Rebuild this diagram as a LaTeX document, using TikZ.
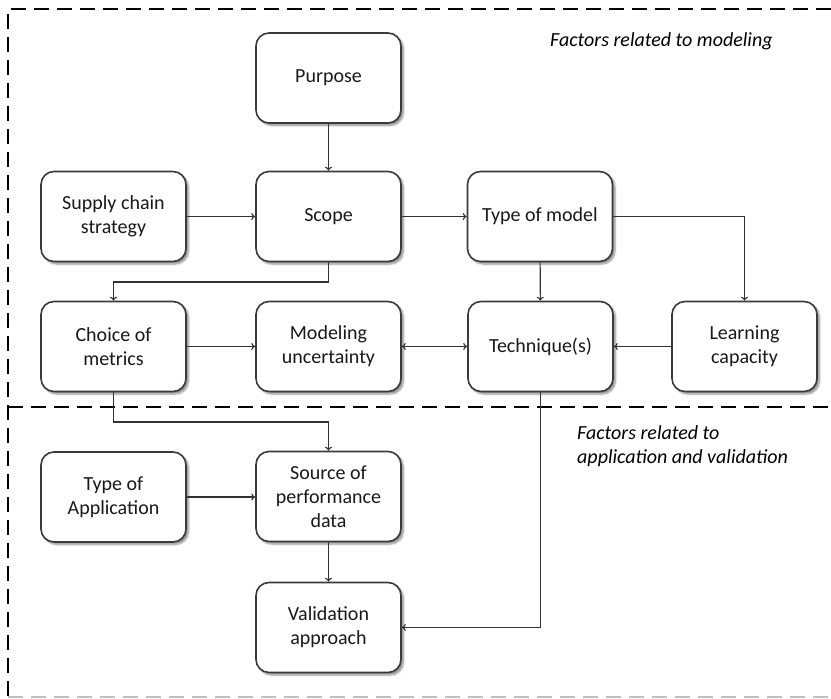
\documentclass[tikz,border=0pt]{standalone}
\usepackage{fontspec}
\setmainfont{Carlito}
\usetikzlibrary{arrows.meta,shadows.blur,calc}
\definecolor{boxline}{HTML}{3A3A3A}
\definecolor{conline}{HTML}{333333}
\tikzset{
  fbox/.style={draw=boxline, line width=1.6pt, rounded corners=13pt, fill=white,
    minimum width=145pt, minimum height=90pt, align=center, inner sep=2pt,
    font=\fontsize{20}{24}\selectfont, text=black!90,
    blur shadow={shadow xshift=2.5pt, shadow yshift=-2.5pt, shadow blur steps=6, shadow opacity=45}},
  conn/.style={draw=conline, line width=1.1pt, -{To[length=4pt,width=7pt]}},
  dconn/.style={draw=conline, line width=1.1pt, {To[length=4pt,width=7pt]}-{To[length=4pt,width=7pt]}},
  region/.style={draw=black, line width=1.8pt, dash pattern=on 15pt off 8pt},
  lbl/.style={font=\fontsize{20}{24}\selectfont\itshape, align=left, inner sep=0pt}
}
\begin{document}
\begin{tikzpicture}[x=1pt,y=-1pt]
\useasboundingbox (0,0) rectangle (831,699);
% regions
\draw[region] (831,9) -- (8,9) -- (8,697);
\draw[region, draw=black!25] (8,697) -- (831,697);
\draw[region] (8,407) -- (831,407);
% nodes
\node[fbox] (purpose) at (328.5,78) {Purpose};
\node[fbox] (supply) at (113.5,216.5) {Supply chain\\strategy};
\node[fbox] (scope) at (328.5,216.5) {Scope};
\node[fbox] (tom) at (540,216.5) {Type of model};
\node[fbox] (choice) at (113.5,346.5) {Choice of\\metrics};
\node[fbox] (model) at (328.5,346.5) {Modeling\\uncertainty};
\node[fbox] (tech) at (540.5,346.5) {Technique(s)};
\node[fbox] (learn) at (744.5,346.5) {Learning\\capacity};
\node[fbox] (toa) at (113.5,497) {Type of\\Application};
\node[fbox] (source) at (328.5,496.5) {Source of\\performance\\data};
\node[fbox] (valid) at (328.5,627.5) {Validation\\approach};
% labels
\node[lbl, anchor=base west] (l1) at (550,46) {Factors related to modeling};
\node[lbl, anchor=north west] (l2) at (577,425) {Factors related to\\application and validation};
% helper coordinates
\coordinate (k1) at (0,282);
\coordinate (k2) at (0,422);
% connectors
\draw[conn] (purpose) -- (scope);
\draw[conn] (supply) -- (scope);
\draw[conn] (scope) -- (tom);
\draw[conn] (scope.south) -- (scope.south |- k1) -| (choice.north);
\draw[conn] (tom.east) -| (learn.north);
\draw[conn] (tom) -- (tech);
\draw[conn] (choice) -- (model);
\draw[dconn] (model) -- (tech);
\draw[conn] (learn) -- (tech);
\draw[conn] (choice.south) -- (choice.south |- k2) -| (source.north);
\draw[conn] (toa.east) -- (toa.east -| source.west);
\draw[conn] (source) -- (valid);
\draw[conn] (tech.south) |- (valid.east);
\end{tikzpicture}
\end{document}
